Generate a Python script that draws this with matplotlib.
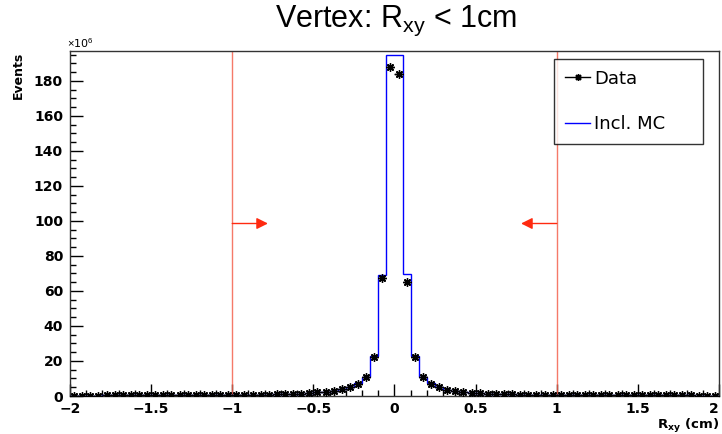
import numpy as np
import matplotlib.pyplot as plt

plt.rcParams['font.family'] = ['DejaVu Sans']
plt.rcParams['mathtext.fontset'] = 'custom'
plt.rcParams['mathtext.rm'] = 'Liberation Sans'
plt.rcParams['mathtext.bf'] = 'DejaVu Sans:bold'

# binning: 80 bins of 0.05 cm from -2 to 2
bin_edges = np.linspace(-2.0, 2.0, 81)

# Incl. MC (x10^6 events), left to right
mc_counts = [
    0.25, 0.26, 0.27, 0.28, 0.29, 0.30, 0.31, 0.32, 0.33, 0.35,
    0.36, 0.38, 0.40, 0.42, 0.44, 0.46, 0.48, 0.50, 0.53, 0.56,
    0.60, 0.64, 0.68, 0.73, 0.79, 0.86, 0.95, 1.05, 1.20, 1.50,
    2.00, 2.40, 3.00, 3.80, 5.20, 7.30, 11.0, 22.8, 69.0, 194.5,
    195.0, 69.5, 22.8, 11.0, 7.50, 5.30, 3.60, 2.90, 2.30, 1.90,
    1.60, 1.40, 1.20, 1.05, 0.92, 0.82, 0.74, 0.68, 0.63, 0.59,
    0.55, 0.52, 0.50, 0.48, 0.46, 0.44, 0.42, 0.40, 0.38, 0.37,
    0.36, 0.34, 0.33, 0.32, 0.31, 0.30, 0.29, 0.28, 0.27, 0.26,
]

# Data (x10^6 events)
data_counts = [
    0.26, 0.26, 0.28, 0.28, 0.30, 0.30, 0.32, 0.32, 0.34, 0.35,
    0.37, 0.38, 0.41, 0.42, 0.45, 0.46, 0.49, 0.50, 0.54, 0.56,
    0.61, 0.64, 0.69, 0.73, 0.80, 0.86, 0.96, 1.05, 1.25, 1.50,
    2.10, 2.30, 3.00, 3.80, 5.30, 6.90, 10.8, 22.4, 67.4, 188.0,
    184.0, 65.0, 22.2, 10.6, 6.90, 5.00, 3.40, 2.90, 2.30, 1.90,
    1.70, 1.40, 1.20, 1.05, 0.93, 0.82, 0.75, 0.68, 0.63, 0.59,
    0.56, 0.52, 0.51, 0.48, 0.47, 0.44, 0.43, 0.40, 0.39, 0.37,
    0.36, 0.34, 0.33, 0.32, 0.31, 0.30, 0.29, 0.28, 0.27, 0.26,
]

cut_lo, cut_hi = -1.0, 1.0
arrow_y = 98.5
arrow_len = 0.22

centers = 0.5 * (bin_edges[:-1] + bin_edges[1:])
half_w = 0.5 * (bin_edges[1] - bin_edges[0])

fig = plt.figure(figsize=(7.22, 4.34), dpi=100)
ax = fig.add_axes([70 / 722, 38 / 434, 649 / 722, 345 / 434])

ax.stairs(mc_counts, bin_edges, color='#0000ff', lw=1.0, label='Incl. MC', zorder=3)
ax.errorbar(centers, data_counts, xerr=half_w, yerr=np.sqrt(np.array(data_counts)) * 0.01,
            fmt='none', ecolor='black', elinewidth=1.0, capsize=0, zorder=4)
ax.plot(centers, data_counts, ls='none', marker=(8, 2, 0), ms=6, mew=1.0,
        color='black', zorder=5)
# legend proxy for data
ax.plot([], [], color='black', lw=1.0, marker=(8, 2, 0), ms=5, label='Data')

# cut lines and arrows
for xc, direction in [(cut_lo, 1), (cut_hi, -1)]:
    ax.axvline(xc, color='#f4634f', lw=1.0, alpha=0.85, zorder=2)
    ax.annotate('', xy=(xc + direction * arrow_len, arrow_y), xytext=(xc, arrow_y),
                arrowprops=dict(arrowstyle='-|>', color='#ff2a10', lw=1.0,
                                mutation_scale=17, shrinkA=0, shrinkB=0),
                zorder=6)

ax.set_xlim(-2, 2)
ax.set_ylim(0, 197)

ax.set_xticks(np.arange(-2, 2.01, 0.5))
ax.set_xticks(np.arange(-2, 2.01, 0.1), minor=True)
ax.set_xticklabels(['\u22122', '\u22121.5', '\u22121', '\u22120.5', '0', '0.5', '1', '1.5', '2'])
ax.set_yticks(np.arange(0, 181, 20))
ax.set_yticks(np.arange(0, 196, 5), minor=True)

ax.tick_params(which='both', direction='in', top=False, right=False, labelsize=10)
ax.tick_params(which='major', length=9, width=1.0)
ax.tick_params(which='minor', length=4.5, width=1.0)
ax.tick_params(axis='x', pad=4)
ax.tick_params(axis='y', pad=5)
for lab in ax.get_xticklabels() + ax.get_yticklabels():
    lab.set_fontweight('bold')
ax.get_xticklabels()[-1].set_ha('right')

for sp in ax.spines.values():
    sp.set_linewidth(1.0)
    sp.set_color('#333333')

fig.text(396 / 722, 1 - 21 / 434, r'Vertex: R$_{\rm xy}$ < 1cm', ha='center', va='center',
         fontsize=22, family=['Liberation Sans', 'DejaVu Sans'])
fig.text(67 / 722, 1 - 43 / 434, r'$\times$10$^{6}$', ha='left', va='center', fontsize=8)
fig.text(18 / 722, 1 - 52 / 434, 'Events', rotation=90, ha='center', va='top',
         fontsize=9, fontweight='bold')
fig.text(719 / 722, 1 - 417 / 434, r'R$_{\mathbf{xy}}$ (cm)', ha='right', va='top',
         fontsize=9.5, fontweight='bold')

handles, labels = ax.get_legend_handles_labels()
order = [labels.index('Data'), labels.index('Incl. MC')]
leg = ax.legend([handles[i] for i in order], [labels[i] for i in order],
                loc='upper left', bbox_to_anchor=(0.746, 0.73, 0.229, 0.247),
                mode='expand', fontsize=13, frameon=True, fancybox=False,
                edgecolor='black', borderpad=0.6, labelspacing=1.5,
                handlelength=1.4, handletextpad=0.2, borderaxespad=0)
leg.get_frame().set_linewidth(1.0)

fig.savefig('out.png', dpi=100)
